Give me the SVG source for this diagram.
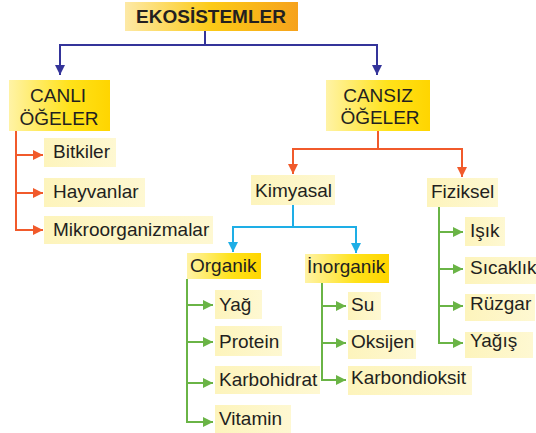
<svg xmlns="http://www.w3.org/2000/svg" width="536" height="433" viewBox="0 0 536 433">
<defs>
  <linearGradient id="gTitle" x1="0" y1="0" x2="1" y2="0">
    <stop offset="0" stop-color="#fde9a6"/>
    <stop offset="0.5" stop-color="#fcca16"/>
    <stop offset="1" stop-color="#f6a21c"/>
  </linearGradient>
  <linearGradient id="gMain" x1="0" y1="0" x2="1" y2="0">
    <stop offset="0" stop-color="#fff3a6"/>
    <stop offset="0.6" stop-color="#ffe21a"/>
    <stop offset="1" stop-color="#ffd500"/>
  </linearGradient>
  <linearGradient id="gLeaf" x1="0" y1="0" x2="1" y2="0">
    <stop offset="0" stop-color="#fdf4bc"/>
    <stop offset="1" stop-color="#fef8d2"/>
  </linearGradient>
  <marker id="aBlue" viewBox="0 0 10 10" refX="10" refY="5" markerWidth="10" markerHeight="10" markerUnits="userSpaceOnUse" orient="auto"><path class="ah" d="M0,0 L10,5 L0,10 z" fill="#34349a"/></marker>
  <marker id="aRed" viewBox="0 0 10 10" refX="10" refY="5" markerWidth="10" markerHeight="10" markerUnits="userSpaceOnUse" orient="auto"><path class="ah" d="M0,0 L10,5 L0,10 z" fill="#f15a2b"/></marker>
  <marker id="aCyan" viewBox="0 0 10 10" refX="10" refY="5" markerWidth="10" markerHeight="10" markerUnits="userSpaceOnUse" orient="auto"><path class="ah" d="M0,0 L10,5 L0,10 z" fill="#1eaee6"/></marker>
  <marker id="aGreen" viewBox="0 0 10 10" refX="10" refY="5" markerWidth="11" markerHeight="10" markerUnits="userSpaceOnUse" orient="auto"><path class="ah" d="M0,0 L10,5 L0,10 z" fill="#6ab446"/></marker>
</defs>
<style>
  text { font-family: "Liberation Sans", Arial, sans-serif; font-size: 19px; fill: #231f20; }
  .title { font-weight: bold; }
  .mid { text-anchor: middle; }
  .leaf { fill: url(#gLeaf); }
  .main { fill: url(#gMain); }
  .ln { fill: none; stroke-width: 2; }
  .blue { stroke: #34349a; }
  .red { stroke: #f15a2b; }
  .cyan { stroke: #1eaee6; }
  .green { stroke: #6ab446; }
</style>
<rect width="536" height="433" fill="#ffffff"/>

<g id="connectors">
  <path class="ln blue" d="M205,31 V45"/>
  <path class="ln blue" d="M205,45 H60 V75" marker-end="url(#aBlue)"/>
  <path class="ln blue" d="M205,45 H377 V75" marker-end="url(#aBlue)"/>

  <path class="ln red" d="M16,131 V230 H43" marker-end="url(#aRed)"/>
  <path class="ln red" d="M16,155 H43" marker-end="url(#aRed)"/>
  <path class="ln red" d="M16,193 H43" marker-end="url(#aRed)"/>

  <path class="ln red" d="M378,131 V149"/>
  <path class="ln red" d="M378,149 H293 V174" marker-end="url(#aRed)"/>
  <path class="ln red" d="M378,149 H462 V177" marker-end="url(#aRed)"/>

  <path class="ln cyan" d="M293,205 V227"/>
  <path class="ln cyan" d="M293,227 H233 V252" marker-end="url(#aCyan)"/>
  <path class="ln cyan" d="M293,227 H356 V253" marker-end="url(#aCyan)"/>

  <path class="ln green" d="M187,279 V422 H213" marker-end="url(#aGreen)"/>
  <path class="ln green" d="M187,305 H213" marker-end="url(#aGreen)"/>
  <path class="ln green" d="M187,342 H213" marker-end="url(#aGreen)"/>
  <path class="ln green" d="M187,383 H213" marker-end="url(#aGreen)"/>

  <path class="ln green" d="M322,283 V380 H346" marker-end="url(#aGreen)"/>
  <path class="ln green" d="M322,306 H346" marker-end="url(#aGreen)"/>
  <path class="ln green" d="M322,343 H346" marker-end="url(#aGreen)"/>

  <path class="ln green" d="M439,207 V343 H463" marker-end="url(#aGreen)"/>
  <path class="ln green" d="M439,232 H463" marker-end="url(#aGreen)"/>
  <path class="ln green" d="M439,269 H463" marker-end="url(#aGreen)"/>
  <path class="ln green" d="M439,306 H463" marker-end="url(#aGreen)"/>
</g>

<g id="ekosistemler">
  <rect x="125" y="2" width="173" height="29" fill="url(#gTitle)"/>
  <text class="title mid" x="211" y="23">EKOSİSTEMLER</text>
</g>

<g id="canli">
  <rect class="main" x="9" y="80" width="101" height="51"/>
  <text class="mid" x="58" y="102">CANLI</text>
  <text class="mid" x="59" y="125">ÖĞELER</text>
</g>
<g id="cansiz">
  <rect class="main" x="326" y="80" width="104" height="51"/>
  <text class="mid" x="378" y="102">CANSIZ</text>
  <text class="mid" x="380" y="124">ÖĞELER</text>
</g>

<g id="bitkiler"><rect class="leaf" x="44" y="138" width="72" height="29"/><text x="53" y="158">Bitkiler</text></g>
<g id="hayvanlar"><rect class="leaf" x="44" y="178" width="101" height="29"/><text x="53" y="198">Hayvanlar</text></g>
<g id="mikroorganizmalar"><rect class="leaf" x="44" y="216" width="169" height="28"/><text x="53" y="236">Mikroorganizmalar</text></g>

<g id="kimyasal"><rect class="leaf" x="251" y="175" width="84" height="30"/><text x="255" y="197">Kimyasal</text></g>
<g id="fiziksel"><rect class="leaf" x="427" y="178" width="71" height="29"/><text x="431" y="198">Fiziksel</text></g>

<g id="organik"><rect class="main" x="187" y="253" width="74" height="26"/><text x="190" y="272">Organik</text></g>
<g id="inorganik"><rect class="main" x="305" y="254" width="84" height="29"/><text x="307" y="273">İnorganik</text></g>

<g id="yag"><rect class="leaf" x="215" y="290" width="47" height="29"/><text x="219" y="311">Yağ</text></g>
<g id="protein"><rect class="leaf" x="215" y="326" width="67" height="30"/><text x="219" y="348">Protein</text></g>
<g id="karbohidrat"><rect class="leaf" x="215" y="366" width="105" height="28"/><text x="219" y="386">Karbohidrat</text></g>
<g id="vitamin"><rect class="leaf" x="215" y="405" width="76" height="28"/><text x="219" y="425">Vitamin</text></g>

<g id="su"><rect class="leaf" x="348" y="292" width="33" height="28"/><text x="351" y="311">Su</text></g>
<g id="oksijen"><rect class="leaf" x="348" y="330" width="68" height="29"/><text x="351" y="348">Oksijen</text></g>
<g id="karbondioksit"><rect class="leaf" x="348" y="366" width="124" height="29"/><text x="351" y="384">Karbondioksit</text></g>

<g id="isik"><rect class="leaf" x="465" y="217" width="40" height="29"/><text x="470" y="237">Işık</text></g>
<g id="sicaklik"><rect class="leaf" x="465" y="257" width="71" height="27"/><text x="470" y="274">Sıcaklık</text></g>
<g id="ruzgar"><rect class="leaf" x="465" y="294" width="70" height="27"/><text x="470" y="310">Rüzgar</text></g>
<g id="yagis"><rect class="leaf" x="465" y="332" width="68" height="26"/><text x="470" y="347">Yağış</text></g>
</svg>
